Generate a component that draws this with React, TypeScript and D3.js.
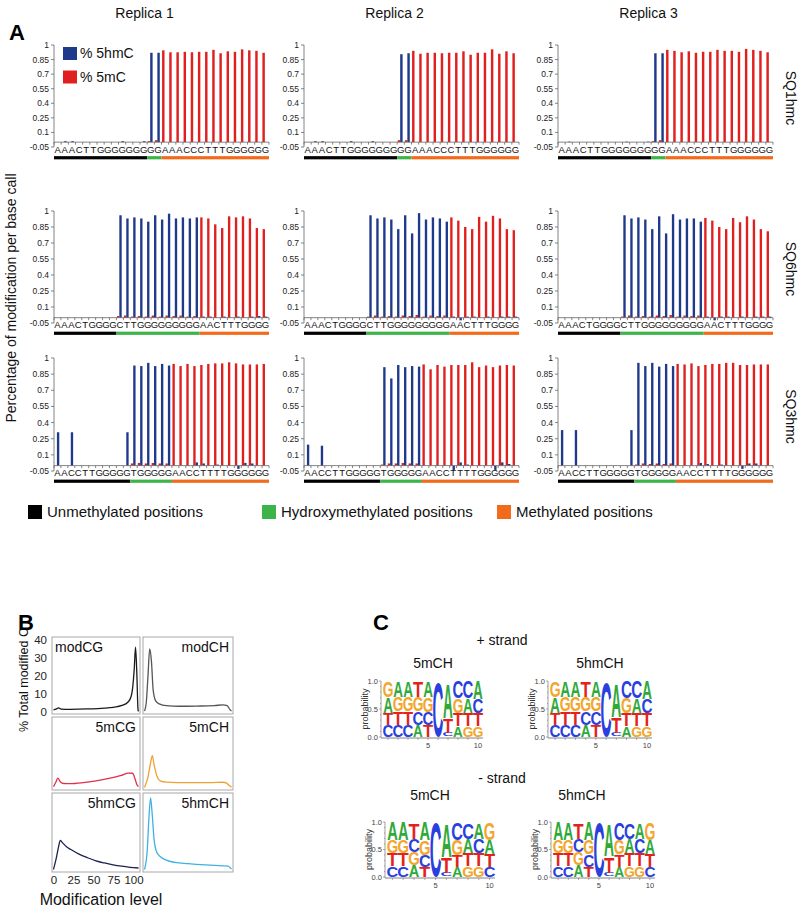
import React from "react";
import * as d3 from "d3";

const FONT = "'Liberation Sans', Arial, Helvetica, sans-serif";

// ---------- Panel A data ----------
const replicaLabels = ["Replica 1", "Replica 2", "Replica 3"];
const sampleLabels = ["SQ1hmc", "SQ6hmc", "SQ3hmc"];
const sequences = [
  "AAACTTGGGGGGGGGAAACCCTTTGGGGGG",
  "AAACTGGGGCTTGGGGGGGGGAACTTTGGGG",
  "AACCTTGGGGGTGGGGGAACCTTTTGGGGGG",
];
// lengths of unmethylated / hydroxymethylated / methylated stretches
const regionLengths = [
  [13, 2, 15],
  [9, 12, 10],
  [11, 6, 14],
];
const yTickValues = [-0.05, 0.1, 0.25, 0.4, 0.55, 0.7, 0.85, 1];

const sq1Rep1Hmc = [0, 0.01, 0.01, 0, 0, 0, 0, 0, 0, 0.01, 0, 0, 0.01, 0.92, 0.92, 0, 0, 0, 0, 0, 0, 0, 0, 0, 0, 0, 0, 0, 0, 0];
const sq1Rep1Mc = [0, 0, 0, 0, 0, 0, 0, 0, 0, 0, 0, 0, 0, 0.01, 0.02, 0.945, 0.925, 0.925, 0.93, 0.925, 0.93, 0.93, 0.95, 0.915, 0.935, 0.93, 0.955, 0.945, 0.94, 0.92];
const sq1Rep2Hmc = [0, 0.01, 0.01, 0, 0, 0, 0.01, 0, 0, 0.01, 0, 0, 0, 0.905, 0.915, 0, 0, 0, 0, 0, 0, 0, 0, 0, 0, 0, 0, 0, 0, 0];
const sq1Rep2Mc = [0, 0, 0, 0, 0, 0, 0, 0, 0, 0, 0, 0, 0, 0.02, 0.02, 0.94, 0.91, 0.92, 0.92, 0.915, 0.92, 0.92, 0.935, 0.9, 0.92, 0.92, 0.955, 0.91, 0.935, 0.915];
const sq1Rep3Hmc = [0, 0.005, 0, 0, 0, 0, 0, 0, 0, 0.005, 0, 0, 0.005, 0.915, 0.915, 0, 0, 0, 0, 0, 0, 0, 0, 0, 0, 0, 0, 0, 0, 0];
const sq1Rep3Mc = [0, 0, 0, 0, 0, 0, 0, 0, 0, 0, 0, 0, 0, 0.01, 0.02, 0.95, 0.94, 0.925, 0.935, 0.92, 0.93, 0.93, 0.95, 0.94, 0.94, 0.93, 0.96, 0.95, 0.94, 0.925];

const sq6Rep1Hmc = [0, 0, 0, 0, 0, 0, 0, 0, 0, 0.96, 0.93, 0.94, 0.93, 0.9, 0.96, 0.92, 0.975, 0.93, 0.94, 0.93, 0.94, 0.01, 0.01, 0, 0.01, 0, 0.01, 0, 0.01, 0.015, 0.01];
const sq6Rep1Mc = [0, 0, 0, 0, 0, 0, 0, 0, 0, 0.015, 0.02, 0.01, 0.015, 0.01, 0.02, 0.01, 0.02, 0.015, 0.02, 0.01, 0.015, 0.94, 0.93, 0.875, 0.84, 0.95, 0.94, 0.95, 0.93, 0.84, 0.83];
const sq6Rep2Hmc = [0, 0, 0, 0, 0, 0, 0, 0, 0, 0.96, 0.93, 0.94, 0.92, 0.83, 0.96, 0.79, 0.98, 0.92, 0.94, 0.93, 0.9, 0.01, -0.025, 0.01, 0.01, 0, 0.01, 0, 0.01, 0.01, 0.01];
const sq6Rep2Mc = [0, 0, 0, 0, 0, 0, 0, 0, 0, 0.01, 0.02, 0.01, 0.015, 0.01, 0.02, 0.015, 0.025, 0.01, 0.02, 0.015, 0.02, 0.94, 0.91, 0.85, 0.83, 0.945, 0.9, 0.955, 0.93, 0.83, 0.82];
const sq6Rep3Hmc = [0, 0, 0, 0, 0, 0, 0, 0, 0, 0.96, 0.93, 0.94, 0.92, 0.83, 0.95, 0.79, 0.97, 0.92, 0.93, 0.93, 0.9, 0.01, -0.025, 0.01, 0.01, 0, 0.01, 0, 0.01, 0.01, 0.01];
const sq6Rep3Mc = [0, 0, 0, 0, 0, 0, 0, 0, 0, 0.01, 0.02, 0.01, 0.015, 0.01, 0.02, 0.015, 0.025, 0.01, 0.02, 0.015, 0.02, 0.935, 0.91, 0.85, 0.83, 0.935, 0.895, 0.95, 0.92, 0.83, 0.81];

const sq3Rep1Hmc = [0.31, 0, 0.31, 0, 0, 0, 0, 0, 0, 0, 0.31, 0.93, 0.925, 0.955, 0.925, 0.945, 0.93, 0, 0, 0, 0.03, 0.02, 0, 0.01, 0, 0, -0.03, 0.025, 0.02, 0, 0];
const sq3Rep1Mc = [0, 0, 0, 0, 0, 0, 0, 0, 0, 0, 0, 0.02, 0.025, 0.02, 0.025, 0.02, 0.02, 0.945, 0.925, 0.945, 0.925, 0.935, 0.945, 0.95, 0.95, 0.96, 0.95, 0.94, 0.94, 0.94, 0.945];
const sq3Rep2Hmc = [0.195, 0, 0.185, 0, 0, 0, 0, 0, 0, 0, 0, 0.915, 0.81, 0.935, 0.915, 0.925, 0.92, 0, 0, 0, 0, -0.04, 0.03, 0.01, 0, 0, 0, -0.04, 0.03, 0.015, 0];
const sq3Rep2Mc = [0, 0, 0, 0, 0, 0, 0, 0, 0, 0, 0, 0.01, 0.02, 0.02, 0.025, 0.02, 0.02, 0.94, 0.895, 0.935, 0.92, 0.935, 0.935, 0.935, 0.96, 0.915, 0.93, 0.915, 0.93, 0.935, 0.93];
const sq3Rep3Hmc = [0.33, 0, 0.33, 0, 0, 0, 0, 0, 0, 0, 0.33, 0.955, 0.925, 0.955, 0.92, 0.945, 0.925, 0, 0, 0, 0.025, 0.015, 0, 0.01, 0, 0, -0.03, 0.02, 0.02, 0, 0];
const sq3Rep3Mc = [0, 0, 0, 0, 0, 0, 0, 0, 0, 0, 0, 0.01, 0.02, 0.015, 0.02, 0.015, 0.02, 0.945, 0.94, 0.95, 0.925, 0.935, 0.945, 0.945, 0.955, 0.955, 0.935, 0.935, 0.94, 0.94, 0.94];

const hmcSeries = [
  [sq1Rep1Hmc, sq1Rep2Hmc, sq1Rep3Hmc],
  [sq6Rep1Hmc, sq6Rep2Hmc, sq6Rep3Hmc],
  [sq3Rep1Hmc, sq3Rep2Hmc, sq3Rep3Hmc],
];
const mcSeries = [
  [sq1Rep1Mc, sq1Rep2Mc, sq1Rep3Mc],
  [sq6Rep1Mc, sq6Rep2Mc, sq6Rep3Mc],
  [sq3Rep1Mc, sq3Rep2Mc, sq3Rep3Mc],
];
const legendALabels = ["Unmethylated positions", "Hydroxymethylated positions", "Methylated positions"];

// ---------- Panel B data: [modification level, % total modified C] ----------
const modCG = [[0, 1.2], [3, 1.6], [6, 2.3], [9, 1.6], [20, 1.5], [40, 1.7], [60, 2.2], [75, 3], [85, 4.5], [90, 7], [93, 13], [95, 24], [96.5, 36], [98, 22], [99.5, 1], [100, 0.3]];
const modCH = [[0, 0.5], [2, 5], [4, 20], [6, 35], [8, 28], [10, 12], [13, 6], [17, 4.5], [25, 3.5], [40, 3.2], [60, 3.3], [80, 3.5], [90, 4], [95, 3.5], [98, 1.5], [100, 0.5]];
const mCG5 = [[0, 0.7], [3, 3.5], [5, 5.5], [8, 3.5], [12, 2.5], [20, 2.4], [35, 3], [50, 4], [65, 5.3], [80, 7], [88, 8.3], [93, 8.2], [96, 5], [98, 2], [100, 0.8]];
const mCH5 = [[0, 0.3], [4, 6], [7, 14], [9, 18], [11, 13], [14, 7], [18, 4], [25, 3.3], [50, 3], [75, 3], [90, 3.2], [94, 2.8], [97, 1.5], [100, 0.5]];
const hmCG5 = [[0, 0.3], [3, 6], [6, 13], [8, 16.5], [10, 15.5], [15, 13], [20, 11.5], [30, 8.8], [40, 6.8], [50, 5.1], [60, 3.9], [70, 2.9], [80, 2.1], [90, 1.5], [100, 1.1]];
const hmCH5 = [[0, 0.3], [3, 10], [5, 28], [7, 40], [9, 30], [11, 17], [14, 10], [18, 7.5], [25, 5.5], [35, 4.2], [50, 3.5], [70, 2.8], [90, 2.3], [96, 2.2], [100, 0.5]];
const panelBNames = [["modCG", "modCH"], ["5mCG", "5mCH"], ["5hmCG", "5hmCH"]];
const panelBSeries = [[modCG, modCH], [mCG5, mCH5], [hmCG5, hmCH5]];
const panelBColors = [["#1a1a1a", "#555555"], ["#e2304a", "#f0a032"], ["#1b2050", "#3fb1e0"]];
const panelBYTicks = [0, 10, 20, 30, 40];
const panelBXTicks = [0, 25, 50, 75, 100];

// ---------- Panel C data: per-position base probabilities ----------
const plus5mCH = [
  { A: 0.28, C: 0.21, G: 0.29, T: 0.22 },
  { A: 0.28, C: 0.22, G: 0.26, T: 0.24 },
  { A: 0.28, C: 0.22, G: 0.26, T: 0.24 },
  { A: 0.22, C: 0.24, G: 0.26, T: 0.28 },
  { A: 0.29, C: 0.23, G: 0.26, T: 0.22 },
  { A: 0.005, C: 0.985, G: 0.005, T: 0.005 },
  { A: 0.62, C: 0.07, G: 0.01, T: 0.26 },
  { A: 0.2, C: 0.3, G: 0.27, T: 0.23 },
  { A: 0.27, C: 0.3, G: 0.2, T: 0.23 },
  { A: 0.32, C: 0.25, G: 0.2, T: 0.23 },
];
const plus5hmCH = [
  { A: 0.28, C: 0.21, G: 0.29, T: 0.22 },
  { A: 0.28, C: 0.22, G: 0.26, T: 0.24 },
  { A: 0.29, C: 0.22, G: 0.25, T: 0.24 },
  { A: 0.22, C: 0.24, G: 0.25, T: 0.29 },
  { A: 0.29, C: 0.24, G: 0.25, T: 0.22 },
  { A: 0.005, C: 0.985, G: 0.005, T: 0.005 },
  { A: 0.6, C: 0.06, G: 0.01, T: 0.29 },
  { A: 0.19, C: 0.3, G: 0.28, T: 0.23 },
  { A: 0.27, C: 0.3, G: 0.2, T: 0.23 },
  { A: 0.32, C: 0.25, G: 0.19, T: 0.24 },
];
const minus5mCH = [
  { A: 0.33, C: 0.2, G: 0.24, T: 0.23 },
  { A: 0.33, C: 0.2, G: 0.24, T: 0.23 },
  { A: 0.21, C: 0.25, G: 0.24, T: 0.3 },
  { A: 0.33, C: 0.22, G: 0.27, T: 0.18 },
  { A: 0.005, C: 0.985, G: 0.005, T: 0.005 },
  { A: 0.6, C: 0.07, G: 0.01, T: 0.28 },
  { A: 0.18, C: 0.32, G: 0.28, T: 0.22 },
  { A: 0.26, C: 0.3, G: 0.2, T: 0.24 },
  { A: 0.3, C: 0.27, G: 0.2, T: 0.23 },
  { A: 0.27, C: 0.18, G: 0.32, T: 0.23 },
];
const minus5hmCH = [
  { A: 0.33, C: 0.2, G: 0.24, T: 0.23 },
  { A: 0.32, C: 0.2, G: 0.25, T: 0.23 },
  { A: 0.21, C: 0.25, G: 0.24, T: 0.3 },
  { A: 0.33, C: 0.22, G: 0.26, T: 0.19 },
  { A: 0.005, C: 0.985, G: 0.005, T: 0.005 },
  { A: 0.58, C: 0.07, G: 0.01, T: 0.3 },
  { A: 0.19, C: 0.32, G: 0.27, T: 0.22 },
  { A: 0.26, C: 0.3, G: 0.2, T: 0.24 },
  { A: 0.3, C: 0.27, G: 0.2, T: 0.23 },
  { A: 0.27, C: 0.18, G: 0.32, T: 0.23 },
];

// ---------- styling ----------
const BLUE = "#1f3a8a";
const RED = "#e01f1f";
const GREEN = "#3db449";
const ORANGE = "#f26a1b";
const REGION_COLORS = ["#000000", GREEN, ORANGE];
const BASE_COLORS: Record<string, string> = { A: "#2fa93a", C: "#2a3fdc", G: "#f3a52c", T: "#e3231b" };
const BASE_INK: Record<string, number> = { A: 71, C: 64, G: 70, T: 58 };

const colX = [54, 304, 558];
const plotW = 215;
const rowY = [
  [45, 147],
  [211, 323],
  [358, 471],
];

function BarChart({ r, c }: { r: number; c: number }) {
  const seq = sequences[r];
  const hmc = hmcSeries[r][c];
  const mc = mcSeries[r][c];
  const n = seq.length;
  const x0 = colX[c];
  const [yTop, yBot] = rowY[r];
  const x = d3.scaleBand<number>().domain(d3.range(n)).range([x0, x0 + plotW]);
  const y = d3.scaleLinear().domain([-0.05, 1]).range([yBot, yTop]);
  const bw = x.bandwidth();
  const barW = bw * 0.34;
  const y0 = y(0);
  const regions = regionLengths[r];
  let acc = 0;
  const segs = regions.map((len, i) => {
    const s = acc;
    acc += len;
    return { s, e: acc, color: REGION_COLORS[i] };
  });
  return (
    <g>
      <line x1={x0} x2={x0} y1={y(1)} y2={y(-0.05)} stroke="#666" strokeWidth={0.8} />
      {yTickValues.map((t) => (
        <g key={t}>
          <line x1={x0 - 3} x2={x0} y1={y(t)} y2={y(t)} stroke="#666" strokeWidth={0.8} />
          <text x={x0 - 5} y={y(t) + 3} fontSize={8.5} textAnchor="end" fill="#222" fontFamily={FONT}>
            {String(t)}
          </text>
        </g>
      ))}
      {mc.map((v, i) => (
        <rect key={"m" + i} x={(x(i) as number) + bw * 0.08} width={barW} y={Math.min(y(v), y0)} height={Math.abs(y(v) - y0)} fill={RED} />
      ))}
      {hmc.map((v, i) => (
        <rect key={"h" + i} x={(x(i) as number) + bw * 0.08 + barW} width={barW} y={Math.min(y(v), y0)} height={Math.abs(y(v) - y0)} fill={BLUE} />
      ))}
      <line x1={x0} x2={x0 + plotW} y1={y0} y2={y0} stroke="#666" strokeWidth={0.8} />
      {d3.range(n + 1).map((i) => {
        const xx = i < n ? (x(i) as number) : x0 + plotW;
        return <line key={"t" + i} x1={xx} x2={xx} y1={y0} y2={y0 + 2.5} stroke="#666" strokeWidth={0.8} />;
      })}
      {seq.split("").map((ch, i) => (
        <text key={"s" + i} x={(x(i) as number) + bw / 2} y={y0 + 10.5} fontSize={9.5} textAnchor="middle" fill="#111" fontFamily={FONT}>
          {ch}
        </text>
      ))}
      {segs.map((sg, i) => (
        <rect key={"g" + i} x={x(sg.s) as number} width={bw * (sg.e - sg.s)} y={y0 + 14} height={3.2} fill={sg.color} />
      ))}
      {r === 0 && c === 0 && (
        <g>
          <rect x={63} y={47} width={14} height={13} fill={BLUE} />
          <text x={80} y={58} fontSize={14} fontFamily={FONT} fill="#111">% 5hmC</text>
          <rect x={63} y={70.5} width={14} height={13} fill={RED} />
          <text x={80} y={82} fontSize={14} fontFamily={FONT} fill="#111">% 5mC</text>
        </g>
      )}
    </g>
  );
}

const bCols = [
  [52, 140],
  [143, 233],
];
const bRows = [
  [637, 714],
  [717, 790],
  [793, 872],
];

function PanelB() {
  const line = d3.line<number[]>().curve(d3.curveMonotoneX);
  return (
    <g>
      {bRows.map(([top, bot], ri) =>
        bCols.map(([left, right], ci) => {
          const xs = d3.scaleLinear().domain([0, 100]).range([left + 1.5, right - 1.5]);
          const ys = d3.scaleLinear().domain([0, 40]).range([bot - 2, bot - 74]);
          const pts = panelBSeries[ri][ci].map((p) => [xs(p[0]), ys(p[1])]);
          const name = panelBNames[ri][ci];
          const leftAligned = ri === 0 && ci === 0;
          return (
            <g key={ri + "-" + ci}>
              <rect x={left} y={top} width={right - left} height={bot - top} fill="none" stroke="#a8a8a8" strokeWidth={1} />
              <path d={line(pts as any) || ""} fill="none" stroke={panelBColors[ri][ci]} strokeWidth={1.3} />
              <text
                x={leftAligned ? left + 3 : right - 4}
                y={top + 15}
                fontSize={14}
                textAnchor={leftAligned ? "start" : "end"}
                fontFamily={FONT}
                fill="#111"
              >
                {name}
              </text>
            </g>
          );
        })
      )}
      {(() => {
        const ys = d3.scaleLinear().domain([0, 40]).range([bRows[0][1] - 2, bRows[0][1] - 74]);
        return panelBYTicks.map((t) => (
          <text key={t} x={47} y={ys(t) + 4} fontSize={11.5} textAnchor="end" fontFamily={FONT} fill="#222">
            {t}
          </text>
        ));
      })()}
      {(() => {
        const xs = d3.scaleLinear().domain([0, 100]).range([bCols[0][0] + 2, bCols[0][1] - 6]);
        return panelBXTicks.map((t) => (
          <text key={t} x={xs(t)} y={884} fontSize={11.5} textAnchor="middle" fontFamily={FONT} fill="#222">
            {t}
          </text>
        ));
      })()}
      <text x={101} y={905} fontSize={16} textAnchor="middle" fontFamily={FONT} fill="#111">
        Modification level
      </text>
      <text transform="translate(28,680) rotate(-90)" fontSize={12.5} textAnchor="middle" fontFamily={FONT} fill="#111">
        % Total modified C
      </text>
    </g>
  );
}

function Logo({ data, x0, width, yTop, yBot, title, titleX, titleY }: any) {
  const n = data.length;
  const x = d3.scaleBand<number>().domain(d3.range(1, n + 1)).range([x0, x0 + width]);
  const y = d3.scaleLinear().domain([0, 1]).range([yBot, yTop]);
  const bw = x.bandwidth();
  const yMinor = d3.range(0, 1.01, 0.1);
  return (
    <g>
      <text x={titleX} y={titleY} fontSize={14} textAnchor="middle" fontFamily={FONT} fill="#111">
        {title}
      </text>
      {data.map((col: Record<string, number>, i: number) => {
        const entries = Object.entries(col).sort((a, b) => a[1] - b[1]);
        let cum = 0;
        return entries.map(([base, v]) => {
          const yb = y(cum);
          cum += v;
          const yt = y(cum);
          const h = yb - yt;
          if (h < 0.6) return null;
          const cx = (x(i + 1) as number) + bw / 2;
          const sx = (bw * 0.96) / BASE_INK[base];
          const sy = h / 72;
          return (
            <text
              key={i + base}
              transform={`translate(${cx},${yb}) scale(${sx},${sy})`}
              fontSize={100}
              fontWeight="bold"
              textAnchor="middle"
              fontFamily={FONT}
              fill={BASE_COLORS[base]}
            >
              {base}
            </text>
          );
        });
      })}
      <line x1={x0 - 2} x2={x0 - 2} y1={yTop} y2={yBot + 1} stroke="#777" strokeWidth={0.7} />
      {yMinor.map((t) => (
        <line key={t} x1={x0 - (Math.abs(t * 2 - Math.round(t * 2)) < 0.01 ? 4 : 3)} x2={x0 - 2} y1={y(t)} y2={y(t)} stroke="#777" strokeWidth={0.6} />
      ))}
      {[0, 0.5, 1].map((t) => (
        <text key={t} x={x0 - 5} y={y(t) + 2.5} fontSize={7.5} textAnchor="end" fontFamily={FONT} fill="#444">
          {t.toFixed(1)}
        </text>
      ))}
      <line x1={x0 - 2} x2={x0 + width} y1={yBot + 1} y2={yBot + 1} stroke="#777" strokeWidth={0.9} />
      {d3.range(1, n + 1).map((p) => (
        <line key={p} x1={(x(p) as number) + bw / 2} x2={(x(p) as number) + bw / 2} y1={yBot + 1} y2={yBot + 3} stroke="#777" strokeWidth={0.6} />
      ))}
      {[5, 10].map((p) => (
        <text key={p} x={(x(p) as number) + bw / 2} y={yBot + 11} fontSize={7.5} textAnchor="middle" fontFamily={FONT} fill="#444">
          {p}
        </text>
      ))}
      <text transform={`translate(${x0 - 15},${(yTop + yBot) / 2}) rotate(-90)`} fontSize={9} textAnchor="middle" fontFamily={FONT} fill="#333">
        probability
      </text>
    </g>
  );
}

export default function App() {
  return (
    <svg width={800} height={912} viewBox="0 0 800 912" style={{ display: "block", position: "absolute", left: 0, top: 0, background: "#fff" }}>
      <rect x={0} y={0} width={800} height={912} fill="#fff" />
      <text x={9} y={40} fontSize={22} fontWeight="bold" fontFamily={FONT}>A</text>
      {replicaLabels.map((lab, c) => (
        <text key={lab} x={colX[c] + plotW / 2 - 17} y={18} fontSize={14} textAnchor="middle" fontFamily={FONT} fill="#111">
          {lab}
        </text>
      ))}
      {sampleLabels.map((lab, r) => (
        <text key={lab} transform={`translate(786,${(rowY[r][0] + rowY[r][1]) / 2 + 2}) rotate(90)`} fontSize={14} textAnchor="middle" fontFamily={FONT} fill="#111">
          {lab}
        </text>
      ))}
      <text transform="translate(16,298) rotate(-90)" fontSize={14} textAnchor="middle" fontFamily={FONT} fill="#111">
        Percentage of modification per base call
      </text>
      {[0, 1, 2].map((r) => [0, 1, 2].map((c) => <BarChart key={r + "_" + c} r={r} c={c} />))}
      {legendALabels.map((lab, i) => {
        const xs = [28, 262, 497];
        return (
          <g key={lab}>
            <rect x={xs[i]} y={505} width={14} height={14} fill={REGION_COLORS[i]} />
            <text x={xs[i] + 19} y={517} fontSize={15} fontFamily={FONT} fill="#111">{lab}</text>
          </g>
        );
      })}

      <text x={18} y={630} fontSize={22} fontWeight="bold" fontFamily={FONT}>B</text>
      <PanelB />

      <text x={373} y={630} fontSize={22} fontWeight="bold" fontFamily={FONT}>C</text>
      <text x={502} y={645} fontSize={14} textAnchor="middle" fontFamily={FONT} fill="#111">+ strand</text>
      <text x={502} y={783} fontSize={14} textAnchor="middle" fontFamily={FONT} fill="#111">- strand</text>
      <Logo data={plus5mCH} x0={383} width={100} yTop={681} yBot={737} title="5mCH" titleX={433} titleY={668} />
      <Logo data={plus5hmCH} x0={550} width={102} yTop={681} yBot={737} title="5hmCH" titleX={600} titleY={668} />
      <Logo data={minus5mCH} x0={387} width={108} yTop={822} yBot={877} title="5mCH" titleX={430} titleY={800} />
      <Logo data={minus5hmCH} x0={553} width={102} yTop={822} yBot={877} title="5hmCH" titleX={582} titleY={800} />
    </svg>
  );
}
